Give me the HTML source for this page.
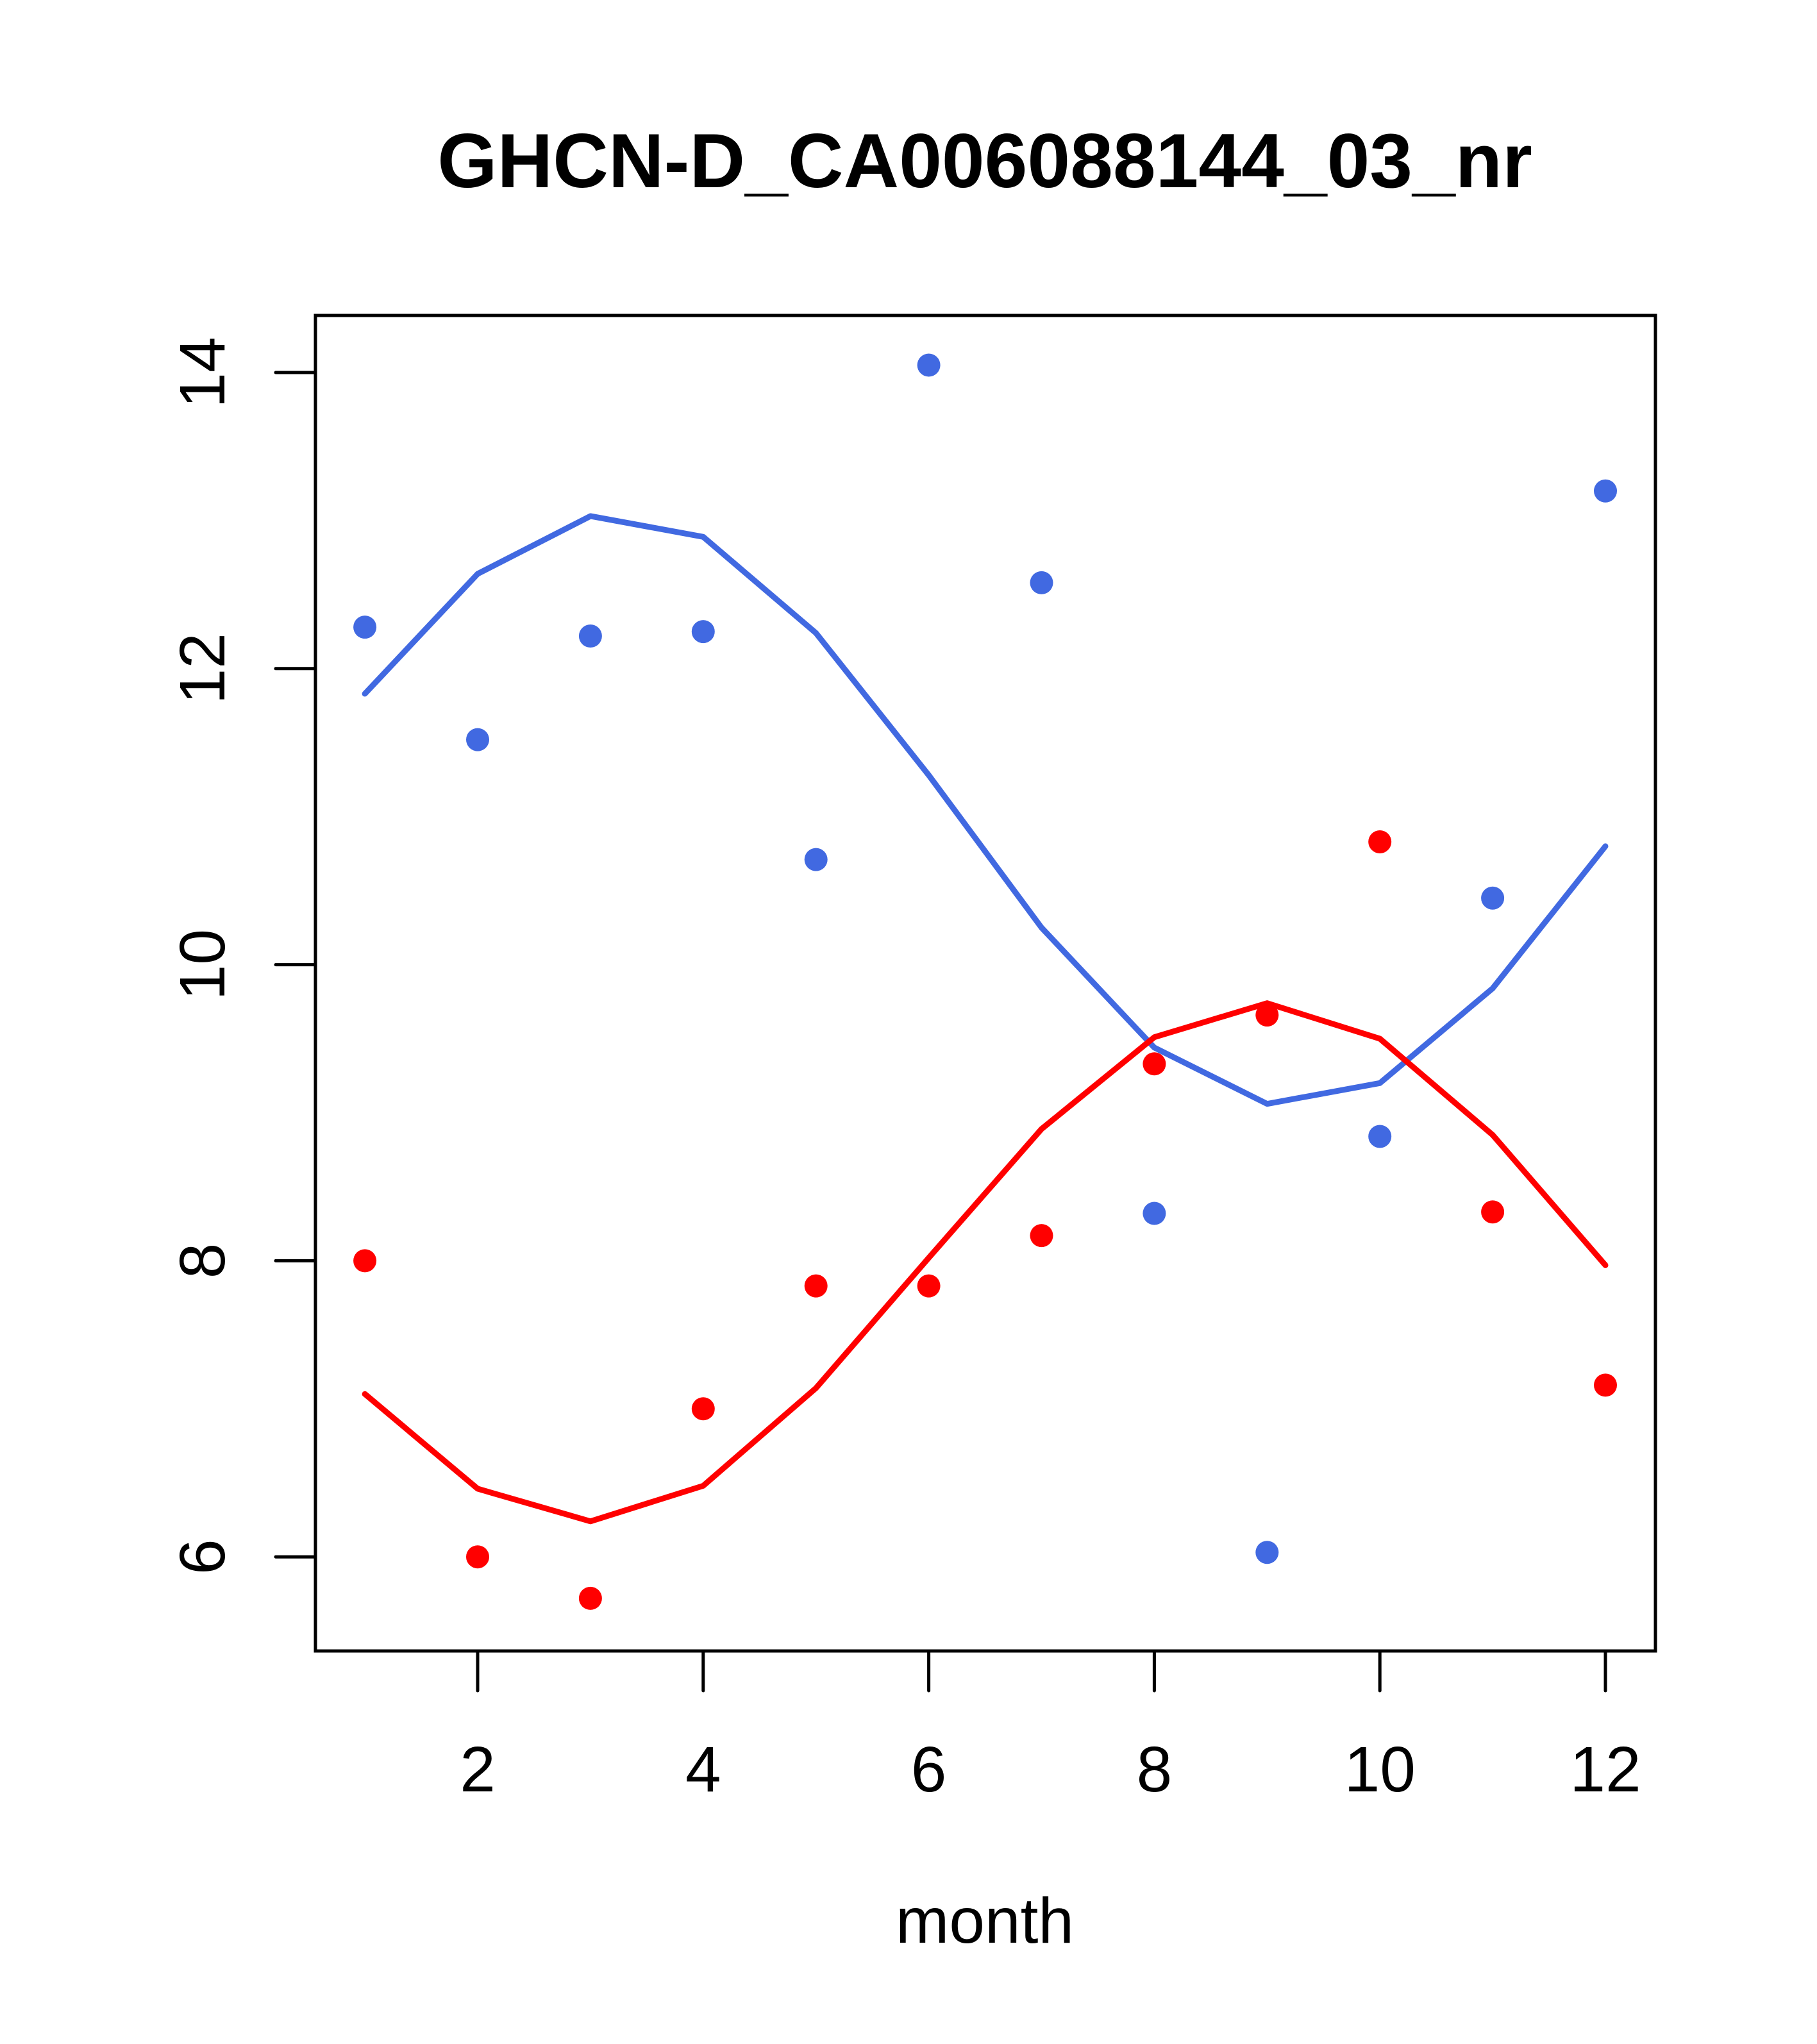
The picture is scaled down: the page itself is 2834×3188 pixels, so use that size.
<!DOCTYPE html>
<html><head><meta charset="utf-8"><style>html,body{margin:0;padding:0;background:#fff}svg{display:block}</style></head>
<body>
<svg id="chart" xmlns="http://www.w3.org/2000/svg" width="2834" height="3188" viewBox="0 0 2834 3188" font-family="Liberation Sans, sans-serif">
<text x="1536" y="292" font-size="120" font-weight="bold" text-anchor="middle">GHCN-D_CA006088144_03_nr</text>
<rect x="492" y="492" width="2090" height="2083" fill="none" stroke="#000" stroke-width="5"/>
<g id="xaxis"></g>
<g id="yaxis"></g>
<text x="1536" y="3030" font-size="100" text-anchor="middle">month</text>
<g id="series"></g>
</svg>
<script>
const months=[1,2,3,4,5,6,7,8,9,10,11,12];
const bluePoints=[12.28,11.52,12.22,12.25,10.71,14.05,12.58,8.32,6.03,8.84,10.45,13.2];
const blueLine=[11.83,12.64,13.03,12.89,12.24,11.28,10.25,9.44,9.06,9.20,9.84,10.80];
const redPoints=[8.0,6.0,5.72,7.0,7.83,7.83,8.17,9.33,9.66,10.83,8.33,7.16];
const redLine=[7.10,6.46,6.24,6.48,7.14,8.02,8.89,9.51,9.74,9.50,8.85,7.97];
const xTicks=[2,4,6,8,10,12];
const yTicks=[6,8,10,12,14];
const NS="http://www.w3.org/2000/svg";
function xs(v){return 2504-(12-v)*175.9;}
function ys(v){return 581+(14-v)*230.9;}
function mk(t,a,p){const e=document.createElementNS(NS,t);for(const k in a)e.setAttribute(k,a[k]);p.appendChild(e);return e;}
const xa=document.getElementById('xaxis'),ya=document.getElementById('yaxis'),sr=document.getElementById('series');
mk('line',{x1:xs(2),x2:xs(12),y1:2575,y2:2575,stroke:'#000','stroke-width':5},xa);
xTicks.forEach(v=>{
 const l=mk('line',{x1:xs(v),x2:xs(v),y1:2575,y2:2637,stroke:'#000','stroke-width':5,'stroke-linecap':'round'},xa);
 
 
 const t=mk('text',{x:xs(v),y:2794,'font-size':100,'text-anchor':'middle'},xa);t.textContent=v;
 
 
});
mk('line',{x1:492,x2:492,y1:ys(6),y2:ys(14),stroke:'#000','stroke-width':5},ya);
yTicks.forEach(v=>{
 const l=mk('line',{x1:430,x2:492,y1:ys(v),y2:ys(v),stroke:'#000','stroke-width':5,'stroke-linecap':'round'},ya);
 
 
 const t=mk('text',{x:350,y:ys(v),'font-size':100,'text-anchor':'middle',transform:`rotate(-90 350 ${ys(v)})`},ya);t.textContent=v;
 
 
});
function line(arr,c,n){const p=mk('polyline',{points:arr.map((v,i)=>xs(months[i])+','+ys(v)).join(' '),fill:'none',stroke:c,'stroke-width':9,'stroke-linecap':'round','stroke-linejoin':'round'},sr);
 
 }
function pts(arr,c,n){arr.forEach((v,i)=>{const e=mk('circle',{cx:xs(months[i]),cy:ys(v),r:18,fill:c},sr);
 
 });}
line(blueLine,'#4169E1','blue-line');
line(redLine,'#FF0000','red-line');
pts(bluePoints,'#4169E1','blue-point');
pts(redPoints,'#FF0000','red-point');
</script>
</body></html>
